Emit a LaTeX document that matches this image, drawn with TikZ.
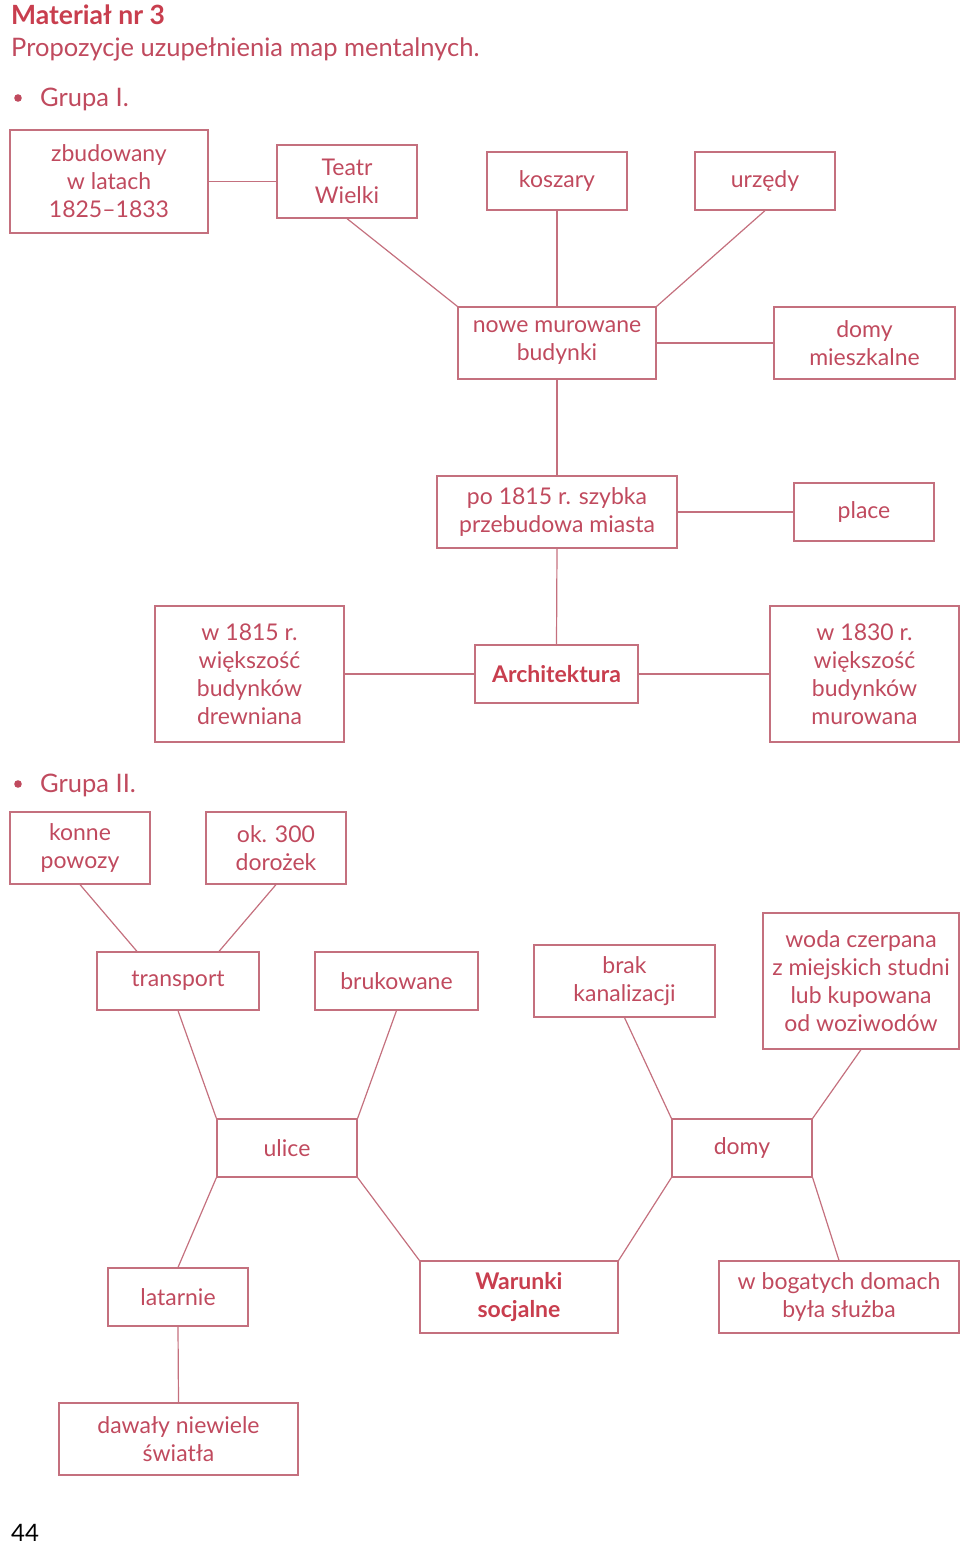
\documentclass[tikz,border=0pt]{standalone}
\usepackage{fontspec}
\setmainfont{Lato}
\definecolor{ln}{RGB}{196,112,126}
\definecolor{txt}{RGB}{192,74,94}
\definecolor{ttl}{RGB}{200,62,78}
\begin{document}
\begin{tikzpicture}[x=1pt,y=-1pt,
  box/.style={draw=ln,line width=1.2pt,rectangle,inner sep=0pt,align=center,text=txt,
    font=\fontsize{23}{28}\selectfont},
  bbox/.style={box,font=\fontsize{23}{28}\selectfont\bfseries,text=ttl},
  con/.style={draw=ln,line width=1.2pt},
  lbl/.style={anchor=base west,inner sep=0pt,text=txt,font=\fontsize{25.5}{30}\selectfont}]
\useasboundingbox (0,0) rectangle (960,1547);
% headings
\node[lbl,text=ttl,font=\fontsize{26.5}{30}\selectfont\bfseries] (t1) at (11,24) {Materiał nr 3};
\node[lbl] (t2) at (11,56) {Propozycje uzupełnienia map mentalnych.};
\fill[txt] (18,98) circle (3.8pt);
\node[lbl] (g1) at (40,106) {Grupa I.};
\fill[txt] (18,784) circle (3.8pt);
\node[lbl] (g2) at (40,792) {Grupa II.};
\node[lbl,text=black,font=\fontsize{24}{28}\selectfont] (pg) at (11,1541) {44};
% Group I
\node[box,minimum width=198pt,minimum height=103pt] (zbud) at (109,181.5) {zbudowany\\w latach\\1825--1833};
\node[box,minimum width=140pt,minimum height=73pt] (teatr) at (347,181.5) {Teatr\\Wielki};
\node[box,minimum width=140pt,minimum height=58pt] (kosz) at (557,181) {koszary};
\node[box,minimum width=140pt,minimum height=58pt] (urz) at (765,181) {urzędy};
\node[box,minimum width=198pt,minimum height=72pt] (nowe) at (557,343) {nowe murowane\\budynki};
\node[box,minimum width=181pt,minimum height=72pt] (domym) at (864.5,343) {domy\\mieszkalne};
\node[box,minimum width=240pt,minimum height=72pt] (po) at (557,512) {po 1815 r. szybka\\przebudowa miasta};
\node[box,minimum width=140pt,minimum height=58pt] (place) at (864,512) {place};
\node[box,minimum width=189pt,minimum height=136pt] (w15) at (249.5,674) {w 1815 r.\\większość\\budynków\\drewniana};
\node[bbox,minimum width=163pt,minimum height=58pt] (arch) at (556.5,674) {Architektura};
\node[box,minimum width=189pt,minimum height=136pt] (w30) at (864.5,674) {w 1830 r.\\większość\\budynków\\murowana};
\draw[con] (zbud.east) -- (teatr.west);
\draw[con] (teatr.south) -- (nowe.north west);
\draw[con] (kosz.south) -- (nowe.north);
\draw[con] (urz.south) -- (nowe.north east);
\draw[con] (nowe.east) -- (domym.west);
\draw[con] (nowe.south) -- (po.north);
\draw[con] (po.east) -- (place.west);
\draw[con] (po.south) -- (arch.north);
\draw[con] (arch.west) -- (w15.east);
\draw[con] (arch.east) -- (w30.west);
% Group II
\node[box,minimum width=140pt,minimum height=72pt] (konne) at (80,848) {konne\\powozy};
\node[box,minimum width=140pt,minimum height=72pt] (ok) at (276,848) {ok. 300\\dorożek};
\node[box,minimum width=162pt,minimum height=58pt] (trans) at (178,981) {transport};
\node[box,minimum width=163pt,minimum height=58pt] (bruk) at (396.5,981) {brukowane};
\node[box,minimum width=181pt,minimum height=72pt] (brak) at (624.5,981) {brak\\kanalizacji};
\node[box,minimum width=196pt,minimum height=136pt] (woda) at (861,981) {woda czerpana\\z miejskich studni\\lub kupowana\\od woziwodów};
\node[box,minimum width=140pt,minimum height=58pt] (ulice) at (287,1148) {ulice};
\node[box,minimum width=140pt,minimum height=58pt] (domy) at (742,1148) {domy};
\node[box,minimum width=140pt,minimum height=58pt] (lat) at (178,1297) {latarnie};
\node[bbox,minimum width=198pt,minimum height=72pt] (war) at (519,1297) {Warunki\\socjalne};
\node[box,minimum width=240pt,minimum height=72pt] (bog) at (839,1297) {w bogatych domach\\była służba};
\node[box,minimum width=239pt,minimum height=72pt] (daw) at (178.5,1439) {dawały niewiele\\światła};
\draw[con] (konne.south) -- ([xshift=-41pt]trans.north);
\draw[con] (ok.south) -- ([xshift=41pt]trans.north);
\draw[con] (trans.south) -- (ulice.north west);
\draw[con] (bruk.south) -- (ulice.north east);
\draw[con] (brak.south) -- (domy.north west);
\draw[con] (woda.south) -- (domy.north east);
\draw[con] (ulice.south west) -- (lat.north);
\draw[con] (ulice.south east) -- (war.north west);
\draw[con] (domy.south west) -- (war.north east);
\draw[con] (domy.south east) -- (bog.north);
\draw[con] (lat.south) -- (daw.north);
\end{tikzpicture}
\end{document}
